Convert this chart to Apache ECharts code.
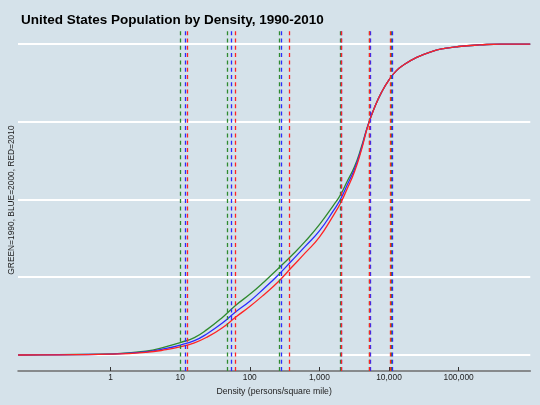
<!DOCTYPE html>
<html>
<head>
<meta charset="utf-8">
<script src="https://cdn.jsdelivr.net/npm/echarts@6/dist/echarts.min.js"></script>
<style>
html,body{margin:0;padding:0;background:#d5e2ea;}
#chart{width:540px;height:405px;}
</style>
</head>
<body>
<div id="chart"></div>
<script>
// Density (persons / square mile) at which the cumulative share was read
var density = [0.047, 0.1, 0.32, 1, 3.2, 6.3, 10, 16, 25, 40, 63, 100, 160, 250, 400, 630, 1000, 1600, 2000, 2500, 3200, 4000, 5000, 6300, 7900, 10000, 12600, 16000, 25000, 40000, 63000, 100000, 200000, 400000, 1070000];
// Cumulative share of population (%)
var pop1990 = [0, 0.05, 0.15, 0.35, 1.2, 2.7, 4.0, 5.6, 8.4, 12.0, 16.0, 19.5, 23.5, 27.6, 32.0, 36.6, 41.9, 48.2, 51.4, 55.8, 60.6, 66.8, 74.0, 80.0, 84.7, 88.5, 91.3, 93.2, 95.7, 97.5, 98.6, 99.2, 99.7, 100, 100];
var pop2000 = [0, 0.05, 0.12, 0.3, 1.0, 2.1, 3.2, 4.6, 7.0, 10.2, 13.9, 17.3, 21.4, 25.5, 30.3, 35.0, 39.9, 46.5, 50.0, 54.6, 59.8, 66.3, 74.0, 80.0, 84.7, 88.5, 91.3, 93.2, 95.7, 97.5, 98.6, 99.2, 99.7, 100, 100];
var pop2010 = [0, 0.05, 0.10, 0.25, 0.85, 1.7, 2.6, 3.9, 5.9, 8.7, 12.2, 15.6, 19.4, 23.3, 28.2, 32.9, 37.9, 45.0, 48.7, 53.4, 59.0, 65.8, 73.8, 80.0, 84.7, 88.5, 91.3, 93.2, 95.7, 97.5, 98.6, 99.2, 99.7, 100, 100];
// Reference (dashed) lines, density values
var lines1990 = [10.1, 47, 262, 1990, 5200, 10800];
var lines2000 = [11.7, 54, 285, 2060, 5350, 11100];
var lines2010 = [12.5, 62, 363, 2030, 5100, 10500];
// X tick values and labels
var xTickValues = [1, 10, 100, 1000, 10000, 100000];
var xTickLabels = ['1', '10', '100', '1,000', '10,000', '100,000'];
var yGridValues = [0, 25, 50, 75, 100];

var GREEN = '#2f8a2f', BLUE = '#2b2bff', RED = '#ff2424';
var FONT = '"Liberation Sans", Arial, Helvetica, sans-serif';

function lg(v){ return Math.log10(v); }
function pairs(vals){ return density.map(function(d,i){ return [lg(d), vals[i]]; }); }
var tickLogs = xTickValues.map(lg);

function vlineSeries(vals, color){
  return {
    type: 'line', data: [], silent: true, z: 2,
    markLine: {
      silent: true, symbol: ['none','none'], animation: false,
      label: {show: false},
      lineStyle: {color: color, type: [4, 3.3], width: 1.3},
      emphasis: {disabled: true},
      data: vals.map(function(v){ return {xAxis: lg(v)}; })
    }
  };
}
function curve(vals, color){
  return {
    type: 'line', data: pairs(vals), showSymbol: false, symbol: 'none',
    smooth: 0.5, z: 3, animation: false,
    lineStyle: {color: color, width: 1.3}, itemStyle: {color: color}
  };
}

var chart = echarts.init(document.getElementById('chart'), null, {renderer: 'canvas'});
chart.setOption({
  backgroundColor: '#d5e2ea',
  animation: false,
  title: {
    text: 'United States Population by Density, 1990-2010',
    left: 16, top: 8,
    textStyle: {fontFamily: FONT, fontSize: 13.5, fontWeight: 'bold', color: '#000'}
  },
  grid: {left: 17.2, right: 9.7, top: 29.1, bottom: 34, containLabel: false},
  xAxis: {
    type: 'value', min: -1.33, max: 6.03,
    name: 'Density (persons/square mile)', nameLocation: 'middle', nameGap: 15,
    nameTextStyle: {fontFamily: FONT, fontSize: 8.7, color: '#222'},
    axisLine: {show: true, onZero: false, lineStyle: {color: '#6e6e6e', width: 1.5}},
    axisTick: {show: true, inside: true, length: 4, customValues: tickLogs, lineStyle: {color: '#333', width: 1}},
    axisLabel: {
      customValues: tickLogs, margin: 3, fontFamily: FONT, fontSize: 8.4, color: '#222',
      formatter: function(v){
        for (var i = 0; i < tickLogs.length; i++) if (Math.abs(tickLogs[i]-v) < 1e-6) return xTickLabels[i];
        return '';
      }
    },
    splitLine: {show: false}
  },
  yAxis: {
    type: 'value', min: -5.15, max: 104.8,
    name: 'GREEN=1990, BLUE=2000, RED=2010', nameLocation: 'middle', nameGap: 2,
    nameTextStyle: {fontFamily: FONT, fontSize: 8.4, color: '#222'},
    axisLine: {show: false},
    axisTick: {show: false, customValues: yGridValues},
    axisLabel: {show: false, customValues: yGridValues},
    splitLine: {show: true, lineStyle: {color: '#ffffff', width: 2}}
  },
  series: [
    vlineSeries(lines1990, GREEN),
    vlineSeries(lines2000, BLUE),
    vlineSeries(lines2010, RED),
    curve(pop1990, GREEN),
    curve(pop2000, BLUE),
    curve(pop2010, RED)
  ]
});
</script>
</body>
</html>
